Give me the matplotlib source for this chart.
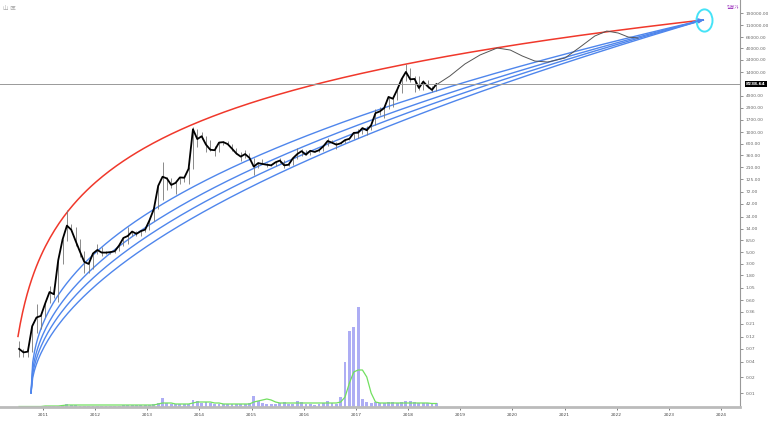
import numpy as np
import matplotlib.pyplot as plt
from matplotlib.path import Path
from matplotlib.transforms import Affine2D, blended_transform_factory

plt.rcParams['font.family'] = ['DejaVu Sans', 'Noto Sans CJK KR']

# -----------------------------------------------------------------------------
# DATA (monthly, Jul 2010 - Jul 2018)
# -----------------------------------------------------------------------------
FIRST_YEAR, FIRST_MONTH = 2010, 7

close = [0.07, 0.06, 0.062, 0.19, 0.28, 0.30,
         0.52, 0.86, 0.78, 3.5, 8.74, 16.1, 13.4, 8.2, 5.1, 3.25, 2.97, 4.72,
         5.5, 4.9, 4.9, 5.0, 5.2, 6.7, 9.35, 10.2, 12.4, 11.2, 12.6, 13.5,
         20.4, 33.4, 93, 139, 129, 97, 106, 135, 133, 198, 1130, 732,
         829, 573, 457, 448, 628, 640, 586, 478, 387, 338, 378, 320,
         217, 254, 244, 236, 230, 263, 284, 230, 236, 314, 378, 430,
         368, 437, 416, 448, 531, 673, 624, 573, 608, 700, 742, 963,
         970, 1190, 1080, 1348, 2300, 2480, 2875, 4703, 4338, 6468, 10233, 14156,
         10221, 10397, 6973, 9240, 7494, 6404, 8238.64]
high = [0.10, 0.07, 0.07, 0.20, 0.50, 0.31,
        0.52, 1.10, 0.93, 3.5, 8.9, 31.9, 17.0, 15.0, 9.0, 5.2, 3.5, 4.8,
        7.2, 6.3, 5.3, 5.3, 5.2, 6.8, 9.5, 15.4, 12.5, 12.7, 12.6, 13.7,
        20.7, 33.4, 95, 266, 140, 130, 111, 138, 145, 215, 1242, 1150,
        1022, 850, 700, 545, 630, 680, 660, 600, 500, 420, 460, 390,
        320, 265, 300, 260, 245, 270, 315, 285, 245, 330, 500, 470,
        460, 440, 440, 470, 550, 780, 700, 630, 630, 720, 750, 980,
        1150, 1200, 1290, 1350, 2790, 3000, 2930, 4750, 5000, 6470, 11400, 19666,
        17200, 11800, 11700, 9800, 9980, 7760, 8500]
low = [0.05, 0.05, 0.05, 0.06, 0.14, 0.17,
       0.29, 0.52, 0.67, 0.56, 3.0, 8.0, 12.6, 6.5, 4.1, 2.0, 2.0, 2.4,
       4.7, 4.3, 4.7, 4.7, 4.9, 5.2, 6.5, 7.1, 10.0, 10.0, 10.2, 12.2,
       13.3, 19.6, 33, 50, 79, 86, 66, 100, 112, 102, 198, 522,
       737, 410, 440, 340, 420, 555, 560, 440, 375, 275, 320, 310,
       152, 200, 240, 215, 225, 220, 255, 200, 225, 235, 300, 350,
       360, 365, 410, 410, 440, 530, 610, 480, 590, 605, 690, 740,
       780, 920, 890, 1080, 1350, 2100, 1830, 2700, 2970, 4100, 5500, 9700,
       9000, 5900, 6400, 6500, 7000, 5750, 6100]
volume = [0.5, 0.5, 0.5, 1, 1, 1,
          1, 1, 1, 1.5, 2, 3, 2, 2, 1.5, 1.5, 1.5, 1.5,
          1.5, 1.5, 1.5, 1.5, 1.5, 1.5, 2, 2.5, 2, 2, 2, 2,
          2.5, 3, 4, 9, 4, 3, 3, 3, 3, 3, 7, 6,
          4, 5, 4, 3, 3, 3, 3, 3, 3, 3, 3, 4,
          11, 6, 4, 3, 3, 3, 4, 5, 3, 3, 6, 5,
          3, 3, 2, 3, 4, 6, 4, 3, 10, 45, 76, 80,
          100, 8, 5, 4, 5, 4, 4, 5, 5, 4, 5, 6,
          6, 5, 4, 4, 4, 3, 4]
volume_ma = [0.5, 0.5, 0.5, 0.5, 0.5, 0.5,
             1, 1, 1, 1, 1.5, 2, 2, 2, 2, 2, 2, 2,
             2, 2, 2, 2, 2, 2, 2, 2, 2, 2, 2, 2,
             2, 2, 3, 4, 4, 4, 3, 3, 3, 3, 4, 5,
             5, 5, 5, 4, 4, 3, 3, 3, 3, 3, 3, 3,
             5, 6, 7, 8, 7, 5, 4, 4, 4, 4, 4, 4,
             4, 4, 4, 4, 4, 4, 4, 4, 5, 10, 24, 35,
             37, 37, 30, 14, 5, 4, 4, 4, 4, 4, 4, 4,
             4, 4, 4, 4, 4, 3.5, 3.5]

# hand-drawn projection after the last candle (year, price)
proj_t = [2018.56, 2018.80, 2019.09, 2019.38, 2019.71, 2019.96, 2020.19, 2020.43,
          2020.68, 2021.01, 2021.30, 2021.58, 2021.81, 2022.03, 2022.22, 2022.41]
proj_p = [8238.64, 11800, 20100, 29900, 40700, 37200, 28600, 22900,
          21900, 26200, 42500, 69000, 86000, 78800, 66100, 63100]

# drawn growth curves, all meeting at one target
TARGET_T, TARGET_P = 2023.66, 140000
RED_T0, RED_START, RED_MID = 2010.27, 2010.52, (2011.45, 28)
BLUE_START_T, BLUE_START_P = 2010.77, 0.01
BLUE_EXPONENTS = [0.417, 0.459, 0.494, 0.531]

LAST_PRICE = 8238.64
price_ticks = [0.01, 0.02, 0.04, 0.07, 0.12, 0.21, 0.36, 0.60, 1.05, 1.80, 3.00, 5.00,
               8.50, 14, 24, 42, 72, 125, 210, 360, 600, 1000, 1700, 2900, 4900,
               14000, 24000, 40000, 66000, 110000, 190000]
year_ticks = list(range(2011, 2025))

# -----------------------------------------------------------------------------
# PLOT
# -----------------------------------------------------------------------------
months = np.arange(len(close))
t = FIRST_YEAR + (FIRST_MONTH - 1 + months + 0.5) / 12

fig = plt.figure(figsize=(7.68, 4.32), dpi=100)
ax = fig.add_axes([0.0, 25 / 432, 740 / 768, 407 / 432])
axv = ax.twinx()

# volume pane (behind price)
axv.bar(t, volume, width=0.055, color='#adadf4', edgecolor='none')
axv.plot(t, volume_ma, color='#72e060', lw=0.9)
axv.set_ylim(0, 407)
axv.axis('off')
ax.set_zorder(axv.get_zorder() + 1)
ax.patch.set_visible(False)

ax.set_yscale('log')
ax.set_xlim(2010.175, 2024.365)
ax.set_ylim(10 ** -2.268, 10 ** 5.529)

# growth curves
t_red = np.linspace(RED_START, TARGET_T, 300)
b_red = (np.log10(TARGET_P) - np.log10(RED_MID[1])) / (np.log(TARGET_T - RED_T0) - np.log(RED_MID[0] - RED_T0))
a_red = np.log10(TARGET_P) - b_red * np.log(TARGET_T - RED_T0)
ax.plot(t_red, 10 ** (a_red + b_red * np.log(t_red - RED_T0)), color='#f0382b', lw=1.1)

t_blue = np.linspace(BLUE_START_T, TARGET_T, 400)
span = np.log10(TARGET_P) - np.log10(BLUE_START_P)
for k in BLUE_EXPONENTS:
    frac = (t_blue - BLUE_START_T) / (TARGET_T - BLUE_START_T)
    ax.plot(t_blue, 10 ** (np.log10(BLUE_START_P) + span * frac ** k), color='#4f86ec', lw=1.0)

ax.annotate('', xy=(TARGET_T + 0.06, TARGET_P * 1.03), xytext=(TARGET_T - 0.25, TARGET_P * 0.9),
            arrowprops=dict(arrowstyle='-|>', color='#4f86ec', lw=1.0, mutation_scale=7))
ellipse = Path.unit_circle().transformed(Affine2D().scale(0.72, 1.0))
ax.plot([TARGET_T + 0.02], [TARGET_P * 1.02], marker=ellipse, ms=16, mfc='none',
        mec='#45e3f7', mew=1.4)

# price
ax.vlines(t, low, high, color='#777777', lw=0.6)
ax.plot(t, close, color='black', lw=1.3)
ax.plot(proj_t, proj_p, color='#555555', lw=0.7)

# last price line and label
ax.axhline(LAST_PRICE, color='#999999', lw=0.7)
trans = blended_transform_factory(ax.transAxes, ax.transData)
ax.text(1.008, LAST_PRICE, f'{LAST_PRICE:.2f}', transform=trans, color='white',
        fontsize=3.2, fontweight='bold', va='center', ha='left',
        bbox=dict(facecolor='black', edgecolor='none', pad=0.8))

# axes styling
ax.yaxis.tick_right()
ax.set_yticks(price_ticks)
ax.set_yticklabels([f'{v:.2f}' for v in price_ticks])
ax.yaxis.set_minor_locator(plt.NullLocator())
ax.set_xticks(year_ticks)
ax.set_xticklabels([str(y) for y in year_ticks])
ax.tick_params(axis='y', labelsize=3.2, colors='#666666', length=2, width=0.5, pad=2)
ax.tick_params(axis='x', labelsize=3.2, colors='#444444', length=2, width=0.5, pad=2)
for side in ['top', 'left']:
    ax.spines[side].set_visible(False)
ax.spines['right'].set_color('#999999')
ax.spines['right'].set_linewidth(0.8)
ax.spines['bottom'].set_color('#bbbbbb')
ax.spines['bottom'].set_linewidth(2)

fig.text(3 / 768, 1 - 9 / 432, '山 匡', fontsize=4, color='#aaaaaa', va='center')
fig.text(727 / 768, 1 - 8 / 432, '일봉가', fontsize=3.2, color='#a23fc0', va='center')

fig.savefig('out.png', dpi=100)
